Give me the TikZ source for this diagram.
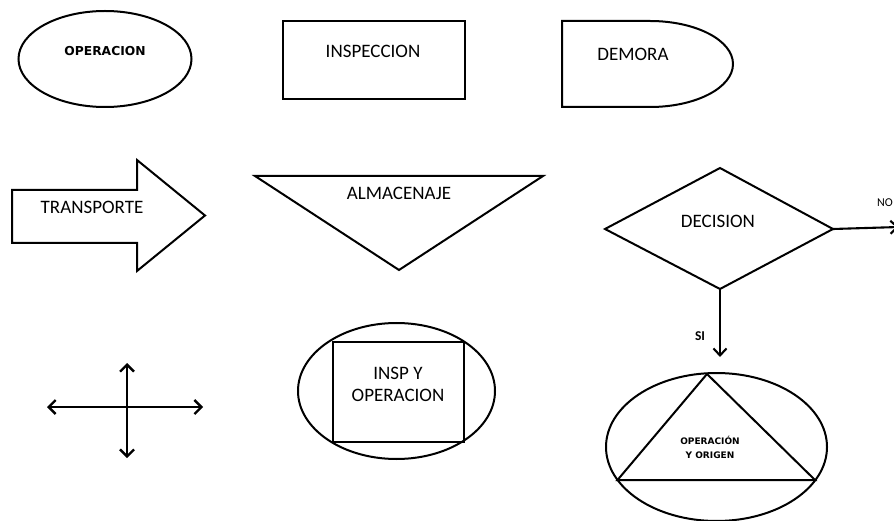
\documentclass[tikz,border=0pt]{standalone}
\usepackage{fontspec}
\setmainfont{Carlito}
\newfontfamily\symbfont{DejaVu Sans}
\usetikzlibrary{shapes.geometric,arrows.meta}

\begin{document}
\begin{tikzpicture}[x=1pt,y=-1pt,line join=miter,
  outline/.style={draw,line width=2pt,inner sep=0pt},
  conn/.style={line width=2.1pt},
  barb/.style={line width=2.3pt,{Straight Barb[length=7pt,width=14pt]}-{Straight Barb[length=7pt,width=14pt]}},
  tip/.style={-{Straight Barb[length=7pt,width=13pt]}},
  lbl/.style={inner sep=0pt,font=\fontsize{19}{22}\selectfont,align=center},
  tiny/.style={inner sep=0pt,font=\symbfont\bfseries\fontsize{12.3}{14}\selectfont},
  tinier/.style={inner sep=0pt,font=\symbfont\bfseries\fontsize{9}{14}\selectfont,align=center}]
\useasboundingbox (0,0) rectangle (894,521);

% operation
\node[outline,ellipse,minimum width=173pt,minimum height=96pt] (opShape) at (105,59) {};
\node[tiny] (opText) at (105,51) {OPERACION};

% inspection
\node[outline,rectangle,minimum width=182pt,minimum height=78pt] (inspShape) at (374,60) {};
\node[lbl] (inspText) at (373,51) {INSPECCION};

% delay
\draw[outline] (562,21) -- (650,21)
  arc[start angle=-90,end angle=90,x radius=83,y radius=43]
  -- (562,107) -- cycle;
\node[lbl] (delayText) at (633,54) {DEMORA};

% transport
\draw[outline] (12,190) -- (137,190) -- (137,160) -- (205,215.5)
  -- (137,271) -- (137,243) -- (12,243) -- cycle;
\node[lbl] (transText) at (92,207) {TRANSPORTE};

% storage
\draw[outline] (255,176) -- (543,176) -- (399,270) -- cycle;
\node[lbl] (storeText) at (399,193) {ALMACENAJE};

% decision
\coordinate (dL) at (605,229);
\coordinate (dT) at (720,168);
\coordinate (dR) at (833,229);
\coordinate (dB) at (720,289);
\draw[outline] (dL) -- (dT) -- (dR) -- (dB) -- cycle;
\node[lbl] (decText) at (718,221) {DECISION};
\coordinate (noEnd) at (899,227);
\coordinate (siEnd) at (720,357);
\draw[conn,tip] (dR) -- (noEnd);
\draw[conn,tip] (dB) -- (siEnd);
\node[inner sep=0pt,font=\fontsize{12}{14}\selectfont] (noText) at (885,203) {NO};
\node[inner sep=0pt,font=\bfseries\fontsize{13.5}{16}\selectfont] (siText) at (700,336) {SI};

% combined movement
\coordinate (hL) at (47,407);
\coordinate (hR) at (203,407);
\coordinate (vT) at (127,363);
\coordinate (vB) at (127,458);
\draw[barb] (hL) -- (hR);
\draw[barb] (vT) -- (vB);

% inspection and operation
\node[outline,ellipse,minimum width=197pt,minimum height=136pt] (ioShape) at (396.5,391) {};
\node[outline,rectangle,minimum width=131pt,minimum height=100pt] (ioBox) at (398.5,392) {};
\node[lbl] (ioText) at (398,384) {INSP Y\\OPERACION};

% operation and origin
\node[outline,ellipse,minimum width=221pt,minimum height=148pt] (orShape) at (716.5,447) {};
\draw[outline] (707,374) -- (617.5,480) -- (815,480) -- cycle;
\node[tinier] (orText) at (710,447) {OPERACIÓN\\Y ORIGEN};
\end{tikzpicture}
\end{document}
